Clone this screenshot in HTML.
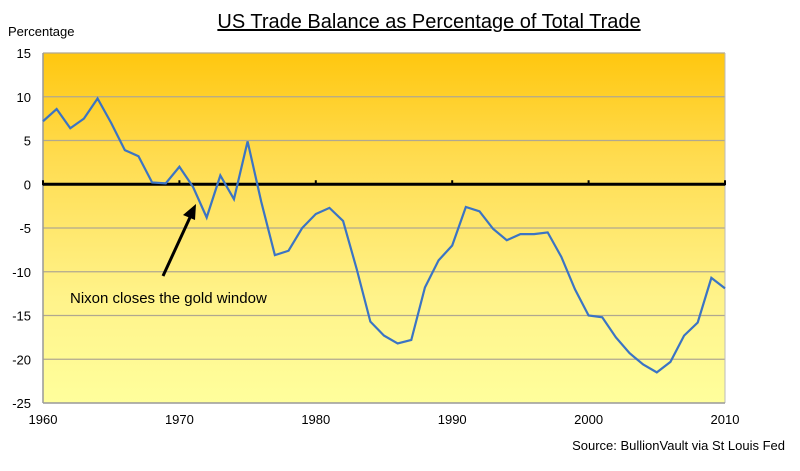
<!DOCTYPE html>
<html><head><meta charset="utf-8"><style>
body{margin:0;background:#fff;font-family:"Liberation Sans",Arial,sans-serif}
svg text{font-family:"Liberation Sans",Arial,sans-serif}
</style></head><body>
<svg id="c" width="800" height="466" viewBox="0 0 800 466">
<defs><linearGradient id="bg" x1="0" y1="0" x2="0" y2="1">
<stop offset="0" stop-color="#ffc70f"/><stop offset="0.3" stop-color="#ffdc50"/><stop offset="0.7" stop-color="#fff38a"/><stop offset="1" stop-color="#ffff9c"/></linearGradient></defs>
<text x="429" y="28" font-size="20" text-anchor="middle" text-decoration="underline">US Trade Balance as Percentage of Total Trade</text>
<text x="8" y="36" font-size="13">Percentage</text>
<rect x="43" y="53" width="682" height="350" fill="url(#bg)"/>
<g id="grid"></g><g id="ticks"></g>
<polyline id="line" fill="none" stroke="#3b74c4" stroke-width="2.2"/>
<line x1="163" y1="276" x2="192" y2="213" stroke="#000" stroke-width="3"/>
<polygon points="196,204 183,215 195,220" fill="#000"/>
<text x="70" y="303" font-size="15">Nixon closes the gold window</text>
<text x="785" y="450" font-size="13" text-anchor="end">Source: BullionVault via St Louis Fed</text>
</svg>
<script>
const years=[1960,1961,1962,1963,1964,1965,1966,1967,1968,1969,1970,1971,1972,1973,1974,1975,1976,1977,1978,1979,1980,1981,1982,1983,1984,1985,1986,1987,1988,1989,1990,1991,1992,1993,1994,1995,1996,1997,1998,1999,2000,2001,2002,2003,2004,2005,2006,2007,2008,2009,2010];
const values=[7.2,8.6,6.4,7.5,9.8,7,3.9,3.2,0.2,0.1,2,-0.3,-3.8,1,-1.7,4.9,-2,-8.1,-7.6,-5,-3.4,-2.7,-4.2,-9.7,-15.7,-17.3,-18.2,-17.8,-11.8,-8.7,-7,-2.6,-3.1,-5.1,-6.4,-5.7,-5.7,-5.5,-8.3,-12,-15,-15.2,-17.5,-19.3,-20.6,-21.5,-20.3,-17.3,-15.8,-10.7,-11.9];
const yTicks=[15,10,5,0,-5,-10,-15,-20,-25];
const xTicks=[1960,1970,1980,1990,2000,2010];
const X=v=>43+(v-1960)*(682/50);
const Y=v=>53+(15-v)*(350/40);
const ns="http://www.w3.org/2000/svg",svg=document.getElementById('c');
const g=document.getElementById('grid'),t=document.getElementById('ticks');
function mk(tag,at,par){const e=document.createElementNS(ns,tag);for(const k in at)e.setAttribute(k,at[k]);par.appendChild(e);return e;}
yTicks.forEach(v=>{
 if(v!==0&&v!==-25){const l=mk('line',{x1:43,x2:725,y1:Y(v),y2:Y(v),stroke:'#b0a890','stroke-width':1.2},g);
 
 }
 const tx=mk('text',{x:31,y:Y(v)+5,'font-size':13,'text-anchor':'end'},t);tx.textContent=v;
 
 
});
mk('line',{x1:43,x2:43,y1:53,y2:403,stroke:'#999','stroke-width':1.5},g);
mk('line',{x1:725,x2:725,y1:53,y2:403,stroke:'#bbb','stroke-width':1},g);
mk('line',{x1:43,x2:725,y1:403,y2:403,stroke:'#999','stroke-width':1.5},g);
const z=mk('line',{x1:43,x2:725,y1:Y(0),y2:Y(0),stroke:'#000','stroke-width':3},g);


xTicks.forEach(v=>{
 mk('line',{x1:X(v),x2:X(v),y1:Y(0)-4,y2:Y(0)+1,stroke:'#000','stroke-width':2},t);
 const tx=mk('text',{x:X(v),y:424,'font-size':13,'text-anchor':'middle'},t);tx.textContent=v;
 
 
});
document.getElementById('line').setAttribute('points',years.map((y,i)=>X(y)+','+Y(values[i])).join(' '));
</script>
</body></html>
